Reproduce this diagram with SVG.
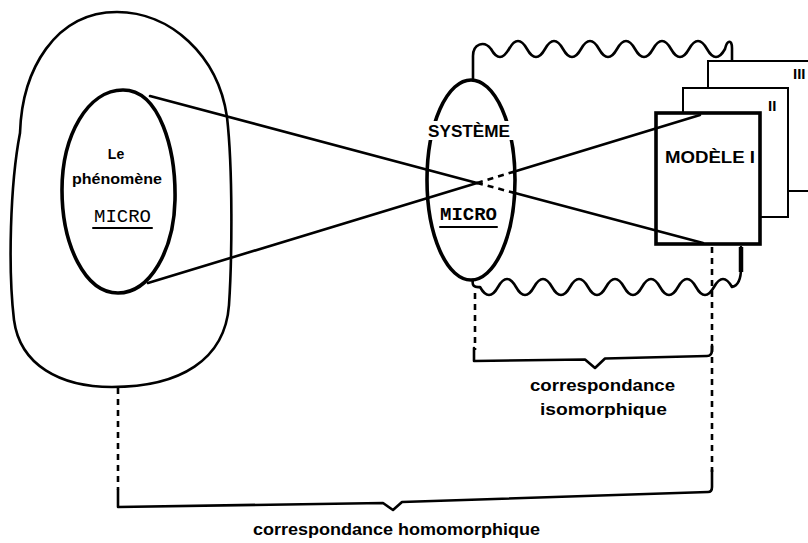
<svg xmlns="http://www.w3.org/2000/svg" width="808" height="543" viewBox="0 0 808 543">
<style>
.s{fill:none;stroke:#000;stroke-linejoin:round;stroke-linecap:round}
.thick{stroke-width:3.6}
.med{stroke-width:2.6}
.thin{stroke-width:2}
.dash{stroke-dasharray:6 5;stroke-linecap:butt}
.box{fill:#fff;stroke:#000}
.lbl{font-family:"Liberation Sans",Arial,sans-serif;font-weight:700;fill:#000}
.mono{font-family:"Liberation Mono","Courier New",monospace;fill:#000}
</style>
<rect width="808" height="543" fill="#fff"/>

<g id="phenomene">
  <path class="s med" d="M117,12 C170,12 218,55 227,117 C233,170 232,260 229,305 C225,360 180,387 112,387 C60,387 20,365 14,320 C8,270 10,185 20,133 C22,70 55,12 117,12 Z"/>
  <path class="s thick" d="M123,90 C160,90 176,150 175,200 C174,250 150,293 118,293 C85,293 62,245 62,190 C62,135 88,90 123,90 Z"/>
  <text class="lbl" x="116" y="159" font-size="14" text-anchor="middle">Le</text>
  <text class="lbl" x="117" y="184" font-size="14" text-anchor="middle" textLength="90" lengthAdjust="spacingAndGlyphs">phénomène</text>
  <text class="mono" x="122.5" y="222" font-size="19" text-anchor="middle">MICRO</text>
  <line class="s thin" x1="93" y1="228" x2="152" y2="228"/>
</g>

<g id="systeme">
  <path class="s med" d="M473,80 L473,56 C473,44 484,40 491,49 q9,16 18,0 t18,0 t18,0 t18,0 t18,0 t18,0 t18,0 t18,0 t18,0 t18,0 t18,0 t18,0 t18,0 C727,40 732,39 732,48 L732,61"/>
  <path class="s med" d="M473,280 Q471,288 480,287 q9,16 18,0 t18,0 t18,0 t18,0 t18,0 t18,0 t18,0 t18,0 t18,0 t18,0 t18,0 t18,0 t18,0 t18,0 Q741,285 741,268 L741,247"/>
  <line x1="741" y1="247" x2="741" y2="272" stroke="#000" stroke-width="4.5"/>
  <ellipse class="s thick" cx="471" cy="180" rx="44" ry="100"/>
  <rect x="426" y="121" width="88" height="19" fill="#fff"/>
  <text class="lbl" x="469" y="137" font-size="16" text-anchor="middle" textLength="82" lengthAdjust="spacingAndGlyphs">SYSTÈME</text>
  <text class="mono" x="468.5" y="220" font-size="18" font-weight="700" text-anchor="middle" textLength="57" lengthAdjust="spacingAndGlyphs">MICRO</text>
  <line class="s thin" x1="440" y1="227" x2="497" y2="227"/>
</g>

<g id="modeles">
  <rect class="box" x="708" y="61" width="120" height="130" stroke-width="2"/>
  <text class="lbl" x="793" y="79" font-size="15">III</text>
  <rect class="box" x="683" y="88" width="105" height="129" stroke-width="2"/>
  <text class="lbl" x="768" y="111" font-size="15">II</text>
  <rect class="box" x="656" y="113" width="104" height="131" stroke-width="3.6"/>
  <text class="lbl" x="710" y="163" font-size="16" text-anchor="middle" textLength="90" lengthAdjust="spacingAndGlyphs">MODÈLE I</text>
</g>

<g id="connectors">
  <path class="s med" d="M150,96 L477,183"/>
  <path class="s med dash" d="M477,183 L513,192.5"/>
  <path class="s med" d="M513,192.5 L703,243"/>
  <path class="s med" d="M148,283 L477,183"/>
  <path class="s med dash" d="M477,183 L513,172"/>
  <path class="s med" d="M513,172 L700,115"/>

  <path class="s med dash" d="M118,388 L118,490"/>
  <path class="s med dash" d="M475,293 L475,350"/>
  <path class="s med dash" d="M712,247 L712,472"/>
  <path class="s med" d="M474,348 L474,361 L585,359.5 L595,368 L605,358.5 L707,356 Q712,356 712,350 L712,345"/>
  <path class="s med" d="M118,490 L118,507 L383,503 L393,510 L402,502 L708,492 Q712,492 712,487 L712,470"/>
</g>

<g id="labels">
  <text class="lbl" x="602.5" y="391" font-size="16" text-anchor="middle" textLength="145" lengthAdjust="spacingAndGlyphs">correspondance</text>
  <text class="lbl" x="603.5" y="415" font-size="16" text-anchor="middle" textLength="127" lengthAdjust="spacingAndGlyphs">isomorphique</text>
  <text class="lbl" x="396.5" y="535" font-size="16" text-anchor="middle" textLength="287" lengthAdjust="spacingAndGlyphs">correspondance homomorphique</text>
</g>
</svg>
